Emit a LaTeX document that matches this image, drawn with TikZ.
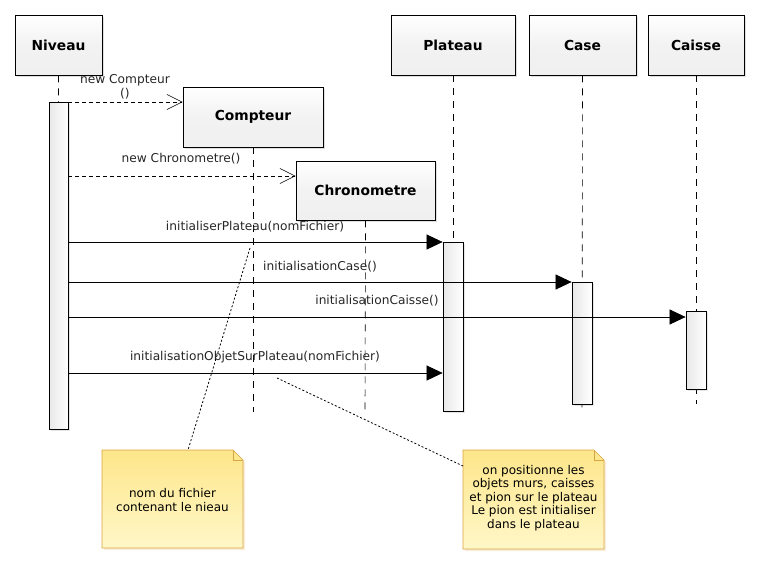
\documentclass[tikz,border=0pt]{standalone}
\usepackage{fontspec}
\setmainfont{DejaVu Sans}
\usetikzlibrary{arrows.meta,shadows,shapes.misc}
\definecolor{notefill}{HTML}{FDE68A}
\definecolor{notefill2}{HTML}{FFF7C8}
\definecolor{noteline}{HTML}{D9A441}
\tikzset{
  obj/.style={draw=black, line width=0.8pt, top color=white, bottom color=gray!12, middle color=gray!10,
    drop shadow={shadow xshift=2pt, shadow yshift=-2pt, opacity=0.25}, inner sep=0pt,
    font=\fontsize{13.8}{16}\selectfont\bfseries},
  act/.style={draw=black, line width=0.8pt, left color=gray!18, right color=white,
    drop shadow={shadow xshift=2pt, shadow yshift=-2pt, opacity=0.2}},
  life/.style={dash pattern=on 7pt off 6pt, line width=0.6pt},
  create/.style={dash pattern=on 4pt off 3pt, line width=0.6pt, -{Straight Barb[length=15pt,width=15pt,line width=0.6pt]}},
  callmsg/.style={line width=0.7pt, -{Triangle[length=16pt,width=15pt]}},
  lbl/.style={font=\fontsize{12.2}{14}\selectfont, inner sep=1pt, text=black!85},
  notelink/.style={dash pattern=on 2pt off 2pt, line width=0.8pt},
  notetext/.style={font=\fontsize{12}{13.6}\selectfont, align=center}
}
\begin{document}
\begin{tikzpicture}[x=1pt,y=-1pt]
\useasboundingbox (0,0) rectangle (760,565);
% objects
\node[obj, minimum width=87pt, minimum height=60pt] (niv) at (58.5,45) {Niveau};
\node[obj, minimum width=140pt, minimum height=60pt] (cpt) at (253,117) {Compteur};
\node[obj, minimum width=139pt, minimum height=59pt] (chr) at (365.5,190.5) {Chronometre};
\node[obj, minimum width=124pt, minimum height=60pt] (pla) at (453,45) {Plateau};
\node[obj, minimum width=107pt, minimum height=60pt] (cas) at (582.5,45) {Case};
\node[obj, minimum width=96pt, minimum height=60pt] (cai) at (696,45) {Caisse};
% lifeline ends
\coordinate (nivend) at (59,429);
\coordinate (cptend) at (253,412);
\coordinate (chrend) at (365,412);
\coordinate (plaend) at (453,411);
\coordinate (casend) at (582,410);
\coordinate (caiend) at (696,404);
\draw[life] (niv.south) -- (nivend);
\draw[life] (cpt.south) -- (cptend);
\draw[life] (chr.south) -- (chrend);
\draw[life] (pla.south) -- (plaend);
\draw[life] (cas.south) -- (casend);
\draw[life] (cai.south) -- (caiend);
% activations
\node[act, minimum width=19pt, minimum height=327pt, inner sep=0pt, anchor=north] (anv) at (58.5,102) {};
\node[act, minimum width=20pt, minimum height=169pt, inner sep=0pt, anchor=north] (apl) at (453,242) {};
\node[act, minimum width=20pt, minimum height=122pt, inner sep=0pt, anchor=north] (aca) at (582,282) {};
\node[act, minimum width=20pt, minimum height=78pt, inner sep=0pt, anchor=north] (aci) at (696,311) {};
% messages
\draw[create] (anv.east |- 0,102) -- (cpt.west |- 0,102);
\node[lbl, align=center] (m1) at (125,87) {new Compteur\\()};
\draw[create] (anv.east |- 0,176) -- (chr.west |- 0,176);
\node[lbl] (m2) at (181,159) {new Chronometre()};
\draw[callmsg] (anv.east |- 0,242) -- (apl.west |- 0,242);
\node[lbl] (m3) at (255,227) {initialiserPlateau(nomFichier)};
\draw[callmsg] (anv.east |- 0,282) -- (aca.west |- 0,282);
\node[lbl] (m4) at (320,267) {initialisationCase()};
\draw[callmsg] (anv.east |- 0,317) -- (aci.west |- 0,317);
\node[lbl] (m5) at (377,301) {initialisationCaisse()};
\draw[callmsg] (anv.east |- 0,373) -- (apl.west |- 0,373);
\node[lbl] (m6) at (255,357) {initialisationObjetSurPlateau(nomFichier)};
% notes
\fill[noteline!40, opacity=0.5] (104,452) -- (235,452) -- (245,462) -- (245,550) -- (104,550) -- cycle;
\shade[top color=notefill, bottom color=notefill2, draw=noteline, line width=0.6pt]
  (102,450) -- (233,450) -- (243,460) -- (243,548) -- (102,548) -- cycle;
\draw[noteline, line width=0.6pt] (233,450) -- (233,460) -- (243,460);
\node[notetext] (note1) at (172.5,500) {nom du fichier\\contenant le nieau};
\fill[noteline!40, opacity=0.5] (465,452) -- (596,452) -- (606,462) -- (606,551) -- (465,551) -- cycle;
\shade[top color=notefill, bottom color=notefill2, draw=noteline, line width=0.6pt]
  (463,450) -- (594,450) -- (604,460) -- (604,549) -- (463,549) -- cycle;
\draw[noteline, line width=0.6pt] (594,450) -- (594,460) -- (604,460);
\node[notetext] (note2) at (533.5,498) {on positionne les\\objets murs, caisses\\et pion sur le plateau\\Le pion est initialiser\\dans le plateau};
% note links
\coordinate (l1s) at (250,248);
\coordinate (l1e) at (188,450);
\coordinate (l2s) at (277,378);
\coordinate (l2e) at (463,466);
\draw[notelink] (l1s) -- (l1e);
\draw[notelink] (l2s) -- (l2e);
\end{tikzpicture}
\end{document}
